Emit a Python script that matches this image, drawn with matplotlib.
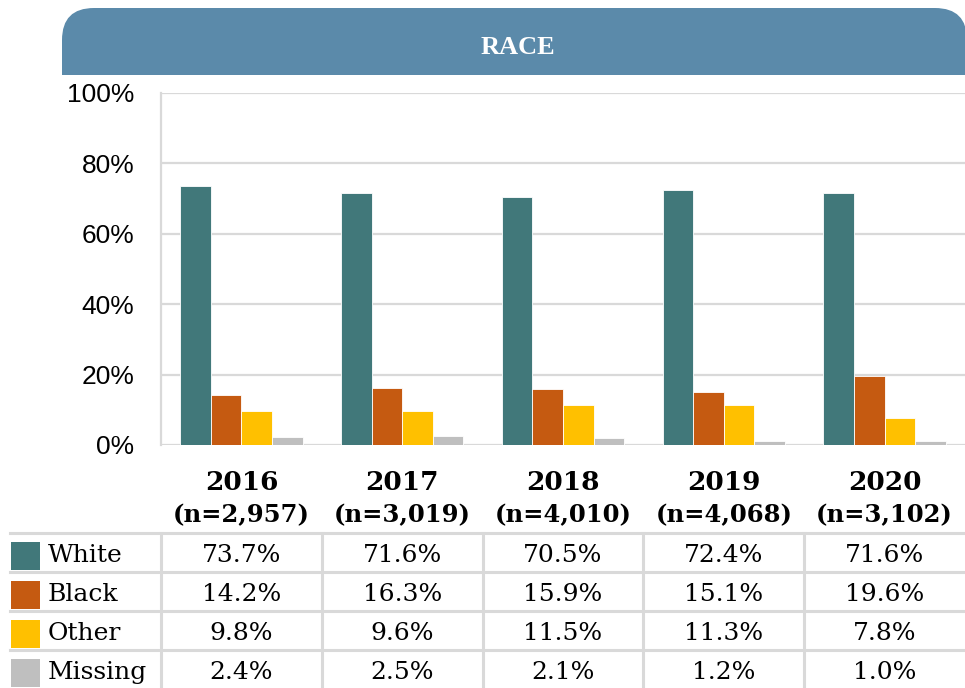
import matplotlib
matplotlib.use("Agg")
import matplotlib.pyplot as plt
import numpy as np
from matplotlib.patches import FancyBboxPatch, Rectangle
from matplotlib.transforms import blended_transform_factory

# data
years = ['2016', '2017', '2018', '2019', '2020']
n_counts = ['2,957', '3,019', '4,010', '4,068', '3,102']
races = ['White', 'Black', 'Other', 'Missing']
white = [73.7, 71.6, 70.5, 72.4, 71.6]
black = [14.2, 16.3, 15.9, 15.1, 19.6]
other = [9.8, 9.6, 11.5, 11.3, 7.8]
missing = [2.4, 2.5, 2.1, 1.2, 1.0]
colors = ['#41787A', '#C55A11', '#FFC000', '#BFBFBF']

W, H = 965, 688
fig = plt.figure(figsize=(W / 100, H / 100), dpi=100)

# background axes in pixel units for header and table
bg = fig.add_axes([0, 0, 1, 1])
bg.set_xlim(0, W)
bg.set_ylim(H, 0)
bg.axis('off')

# header band with rounded top corners (square bottom)
hdr_col = '#5B8AAA'
bg.add_patch(FancyBboxPatch((62, 8), W - 62 + 2, 67, boxstyle='round,pad=0,rounding_size=32',
                            facecolor=hdr_col, edgecolor='none'))
bg.add_patch(Rectangle((62, 40), W - 62 + 40, 35, facecolor=hdr_col, edgecolor='none'))
bg.text(518, 47, 'RACE', color='white', fontsize=19, fontweight='bold',
        family='Liberation Serif', ha='center', va='center')

# bar chart
ax = fig.add_axes([161 / W, 1 - 445 / H, (W - 161) / W + 0.01, (445 - 93) / H])
x = np.arange(len(years))
series = [white, black, other, missing]
bw = 0.19
for i, (vals, c) in enumerate(zip(series, colors)):
    ax.bar(x + (i - 1.5) * bw, vals, bw, color=c, edgecolor='white', linewidth=0.6, zorder=3)

ax.set_xlim(-0.5, 4.5 + 0.06)
ax.set_ylim(0, 100)
ax.set_yticks([0, 20, 40, 60, 80, 100])
ax.set_yticklabels(['0%', '20%', '40%', '60%', '80%', '100%'],
                   family=['Liberation Sans Narrow', 'Liberation Sans'], fontsize=19)
ax.tick_params(axis='y', length=0, pad=19)
ax.set_xticks([])
ax.grid(axis='y', color='#D9D9D9', linewidth=1.6, zorder=0)
for s in ['top', 'right', 'bottom']:
    ax.spines[s].set_visible(False)
ax.spines['left'].set_color('#D9D9D9')
ax.spines['left'].set_linewidth(1.6)

# table under the chart: x follows the bar axis, y in pixels
tr = blended_transform_factory(ax.transData, bg.transData)
for i, (yr, n) in enumerate(zip(years, n_counts)):
    bg.text(i, 482, yr, transform=tr, ha='center', va='center', fontsize=19,
            fontweight='bold', family='DejaVu Serif')
    bg.text(i, 515, '(n=' + n + ')', transform=tr, ha='center', va='center', fontsize=17.5,
            fontweight='bold', family='DejaVu Serif')

grid_c = '#D9D9D9'
row_top = [533, 572, 611, 650]
row_h = 39
for y0 in row_top:
    bg.plot([10, W], [y0, y0], color=grid_c, linewidth=2.2)
for i in range(len(years)):
    bg.plot([i - 0.5, i - 0.5], [533, H], color=grid_c, linewidth=2.2, transform=tr)

for r, (name, vals, c) in enumerate(zip(races, series, colors)):
    yc = row_top[r] + row_h / 2 + 3
    bg.add_patch(Rectangle((11, yc - 14), 29, 28, facecolor=c, edgecolor='none'))
    bg.text(48, yc, name, ha='left', va='center', fontsize=18, family='DejaVu Serif')
    for i, v in enumerate(vals):
        bg.text(i, yc, f'{v:.1f}%', transform=tr, ha='center', va='center',
                fontsize=18, family='DejaVu Serif')

fig.savefig('out.png', dpi=100)
